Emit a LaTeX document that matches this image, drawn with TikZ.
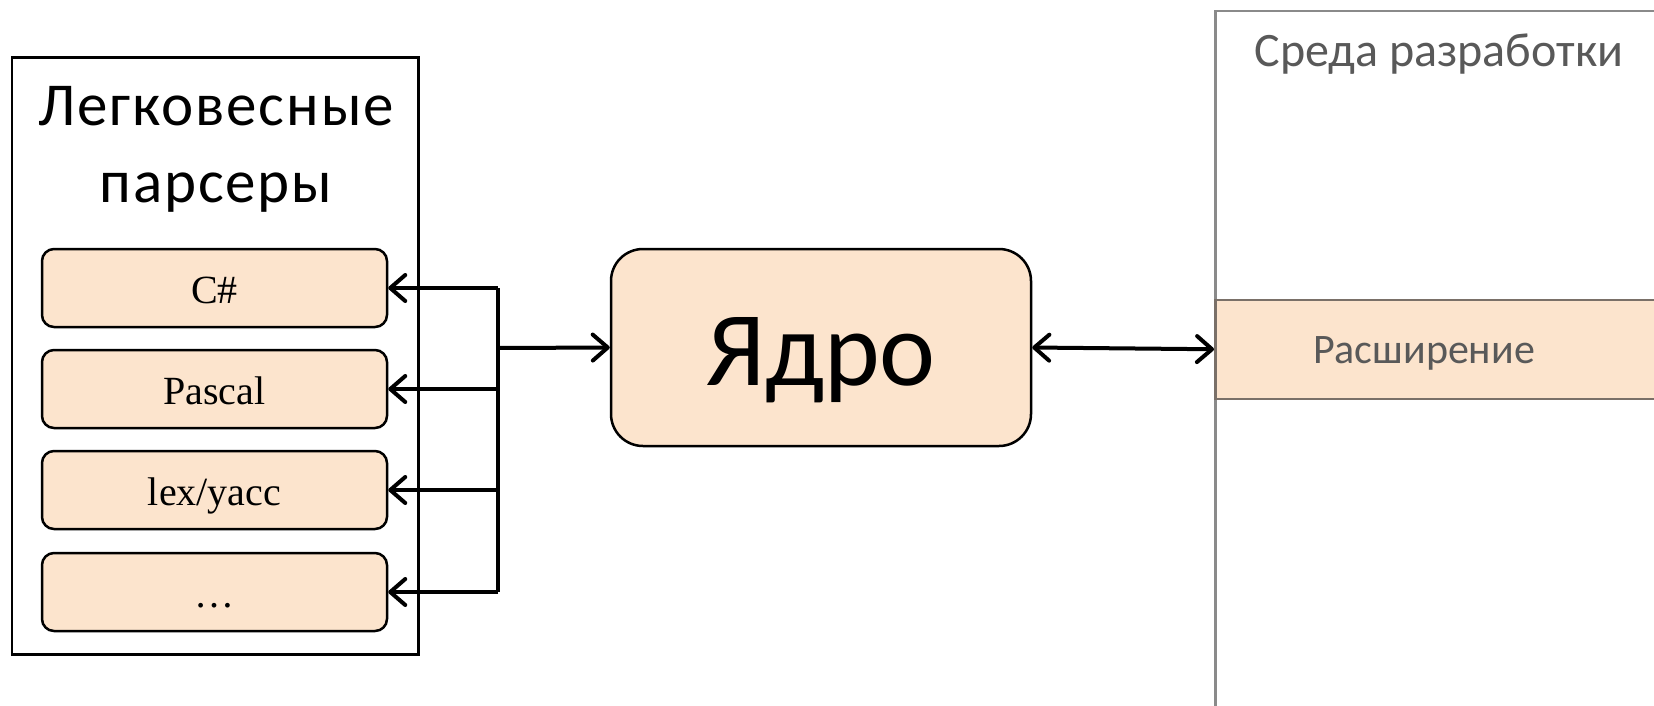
\documentclass[tikz,border=0pt]{standalone}
\usepackage{fontspec}
\setmainfont{Carlito}
\newfontfamily\gfont{Liberation Serif}
\newfontfamily\titlefont[LetterSpace=3]{Carlito}
\usetikzlibrary{arrows.meta}
\definecolor{peach}{HTML}{FCE4CD}
\definecolor{txtgray}{HTML}{595959}
\definecolor{panelgray}{HTML}{8A8A8A}
\definecolor{bandgray}{HTML}{7A7068}
\tikzset{
  groupbox/.style={draw=black, line width=2.5pt, fill=white, inner sep=0pt},
  grouptitle/.style={align=center, inner sep=0pt, font=\titlefont\fontsize{61}{77}\selectfont},
  parser/.style={draw=black, line width=2.5pt, fill=peach, rounded corners=12pt,
    minimum width=345pt, minimum height=78pt, inner sep=0pt,
    text height=30pt, text depth=0pt, font=\gfont\fontsize{40}{48}\selectfont},
  corebox/.style={draw=black, line width=2.5pt, fill=peach, rounded corners=32pt,
    minimum width=420pt, minimum height=197pt, inner sep=0pt,
    text height=75pt, text depth=0pt, font=\fontsize{106}{120}\selectfont},
  panel/.style={draw=panelgray, line width=2.5pt, fill=white, inner sep=0pt},
  band/.style={draw=bandgray, line width=2.5pt, fill=peach, inner sep=0pt},
  paneltext/.style={text=txtgray, inner sep=0pt},
  conn/.style={draw=black, line width=4pt},
  tip/.tip={Straight Barb[length=15pt, width=26pt, line cap=round, line join=round]}
}
\begin{document}
\begin{tikzpicture}[x=1pt, y=-1pt]
\useasboundingbox (0,0) rectangle (1654,705);
\clip (0,0) rectangle (1654,705);

% left group
\node[groupbox, anchor=north west, minimum width=406.5pt, minimum height=597pt] (group) at (10.5,56) {};
\node[grouptitle, anchor=base] (gtitle) at (216,202) {Легковесные\\парсеры};

\node[parser] (p1) at (214.5,288) {C\#};
\node[parser] (p2) at (214.5,389) {Pascal};
\node[parser] (p3) at (214.5,490) {lex/yacc};
\node[parser] (p4) at (214.5,592) {\ldots};

% core
\node[corebox] (core) at (821,347.5) {Ядро};

% right panel
\node[panel, anchor=north west, minimum width=480pt, minimum height=730pt] (ide) at (1214,9.5) {};
\node[paneltext, anchor=base, font=\fontsize{48}{58}\selectfont] (idetitle) at (1439,66.5) {Среда разработки};
\node[band, anchor=north west, minimum width=480pt, minimum height=99pt] (ext) at (1214,298.5) {};
\node[paneltext, anchor=base, font=\fontsize{42}{50}\selectfont] (exttext) at (1424,363) {Расширение};

% connectors
\coordinate (bus) at (498,348);
\draw[conn] (p1.east -| bus) -- (p4.east -| bus);
\foreach \p in {p1,p2,p3,p4}
  \draw[conn, -{tip}] (\p.east -| bus) -- (\p.east);
\draw[conn, -{tip}] (bus) -- (core.west);
\draw[conn, {tip}-{tip}] (core.east) -- (ext.west);
\end{tikzpicture}
\end{document}
